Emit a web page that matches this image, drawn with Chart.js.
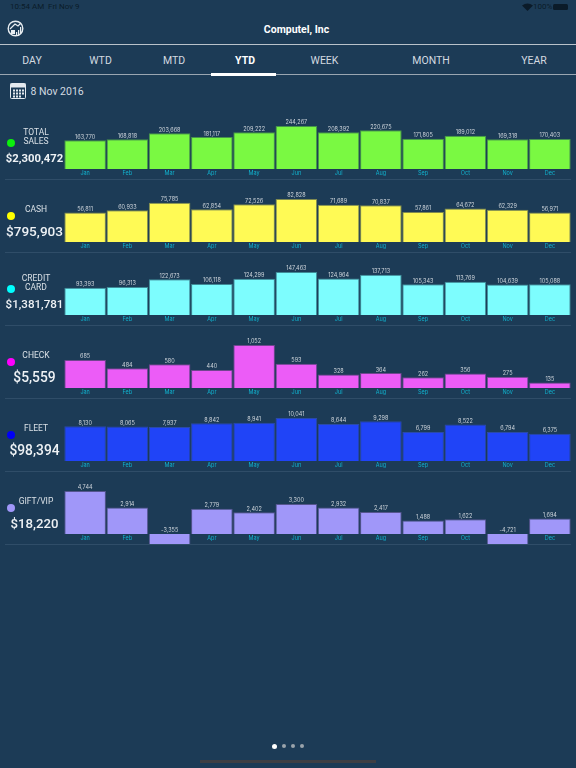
<!DOCTYPE html>
<html>
<head>
<meta charset="utf-8">
<script src="https://cdn.jsdelivr.net/npm/chart.js@4"></script>
<style>
html, body { margin: 0; padding: 0; }
body { width: 576px; height: 768px; background: #1c3b56; position: relative; overflow: hidden; font-family: Roboto, Inter, sans-serif; color: #d9e0e6; }
.abs { position: absolute; white-space: nowrap; }
.ctr { transform: translate(-50%, -50%); text-align: center; }
.tab { font-size: 10.5px; color: #d3dae0; top: 60px; }
.rule { position: absolute; height: 1px; }
.dot { position: absolute; width: 8px; height: 8px; border-radius: 50%; }
canvas { position: absolute; left: 0; }
</style>
</head>
<body>
<div class="abs" style="left:10px;top:2px;font-size:8px;color:#0b1b29">10:54 AM&nbsp;&nbsp;Fri Nov 9</div>
<svg class="abs" style="left:522px;top:3px" width="11" height="8" viewBox="0 0 11 8">
  <path d="M0 2.5 Q5.5 -1.5 11 2.5 L5.5 8 Z" fill="#0b1b29"/>
</svg>
<div class="abs" style="left:533px;top:2px;font-size:8px;color:#0b1b29">100%</div>
<div class="abs" style="left:553px;top:4px;width:15px;height:6px;background:#0b1b29;border-radius:1.5px"></div>

<svg class="abs" style="left:7px;top:20px" width="17" height="17" viewBox="0 0 17 17">
  <circle cx="8.5" cy="8.5" r="7.3" fill="none" stroke="#e8edf1" stroke-width="1.4"/>
  <path d="M3 9 L8 4 L11 6 L14 3" fill="none" stroke="#e8edf1" stroke-width="1.2"/>
  <path d="M4 10h4v4h-4z M9 12h1.2v4h-1.2z M11 10h1.2v6h-1.2z M13 7h1.2v7h-1.2z" fill="#e8edf1"/>
</svg>
<div class="abs ctr" style="left:296.5px;top:29px;font-size:10.5px;font-weight:700;color:#fff">Computel, Inc</div>
<div class="rule" style="left:0;top:44px;width:576px;background:#b9c2ca"></div>

<div class="abs ctr tab" style="left:32px">DAY</div>
<div class="abs ctr tab" style="left:100.5px">WTD</div>
<div class="abs ctr tab" style="left:174px">MTD</div>
<div class="abs ctr tab" style="left:245px;font-weight:700;color:#fff">YTD</div>
<div class="abs ctr tab" style="left:324.5px">WEEK</div>
<div class="abs ctr tab" style="left:431px">MONTH</div>
<div class="abs ctr tab" style="left:534px">YEAR</div>
<div class="rule" style="left:0;top:74px;width:576px;background:#9aa6b1"></div>
<div class="abs" style="left:211px;top:73px;width:65px;height:2.5px;background:#fff"></div>

<svg class="abs" style="left:10px;top:83px" width="16" height="16" viewBox="0 0 16 16">
  <rect x="0.5" y="0.5" width="15" height="15" rx="1" fill="none" stroke="#e4e9ee"/>
  <rect x="0.5" y="0.5" width="15" height="4" fill="#e4e9ee"/>
  <path d="M3 6.5h2v2h-2z M6 6.5h2v2h-2z M9 6.5h2v2h-2z M12 6.5h2v2h-2z M3 9.5h2v2h-2z M6 9.5h2v2h-2z M9 9.5h2v2h-2z M12 9.5h2v2h-2z M3 12.5h2v2h-2z M6 12.5h2v2h-2z M9 12.5h2v2h-2z" fill="#e4e9ee"/>
</svg>
<div class="abs" style="left:30.5px;top:85px;font-size:10.5px;color:#d3dae0">8 Nov 2016</div>

<div class="dot" style="left:272px;top:743.5px;width:5px;height:5px;background:#fff"></div>
<div class="dot" style="left:281.5px;top:744px;width:4px;height:4px;background:#9aa3ab"></div>
<div class="dot" style="left:290.5px;top:744px;width:4px;height:4px;background:#9aa3ab"></div>
<div class="dot" style="left:299.5px;top:744px;width:4px;height:4px;background:#9aa3ab"></div>
<div class="abs" style="left:200px;top:760px;width:176px;height:3px;background:#3e3f44"></div>

<script>
const months = ['Jan', 'Feb', 'Mar', 'Apr', 'May', 'Jun', 'Jul', 'Aug', 'Sep', 'Oct', 'Nov', 'Dec'];

const totalSales = [163770, 168818, 203668, 181117, 209222, 244267, 208392, 220675, 171805, 189012, 169318, 170403];
const cash = [56811, 60933, 75785, 62854, 72526, 82828, 71689, 70837, 57861, 64672, 62329, 56971];
const creditCard = [93393, 96313, 122673, 106118, 124299, 147463, 124964, 137713, 105343, 113769, 104639, 105088];
const check = [685, 484, 580, 440, 1052, 593, 328, 364, 262, 356, 275, 135];
const fleet = [8130, 8065, 7937, 8842, 8941, 10041, 8644, 9298, 6799, 8522, 6794, 6375];
const giftVip = [4744, 2914, -3355, 2779, 2402, 3300, 2932, 2417, 1488, 1622, -4721, 1694];

const seriesValues = [totalSales, cash, creditCard, check, fleet, giftVip];
const seriesNames = [['TOTAL', 'SALES'], ['CASH'], ['CREDIT', 'CARD'], ['CHECK'], ['FLEET'], ['GIFT/VIP']];
const seriesTotals = ['$2,300,472', '$795,903', '$1,381,781', '$5,559', '$98,394', '$18,220'];

const barColors = ['#7af942', '#fffa55', '#7dfdfe', '#ec5cf7', '#2044f7', '#a097f9'];
const borderColors = ['#46944c', '#7f8a50', '#3f8c98', '#70468f', '#2a4aa8', '#55558f'];
const dotColors = ['#0cf00c', '#ffff00', '#00ffff', '#ff00ff', '#0000f5', '#a097f9'];
const totalFonts = [11.3, 13.6, 11.6, 13.8, 13.8, 13.2];

const giftAxisMin = -1225;

// value over each bar, the base line is used for the negative ones
const valueLabels = {
    id: 'valueLabels',
    afterDatasetsDraw(chart) {
        const ctx = chart.ctx;
        const values = chart.data.datasets[0].data;
        ctx.save();
        ctx.font = '5.5px Inter, Roboto, sans-serif';
        ctx.fillStyle = '#ccd3da';
        ctx.textAlign = 'center';
        ctx.textBaseline = 'bottom';
        chart.getDatasetMeta(0).data.forEach((bar, i) => {
            ctx.fillText(values[i].toLocaleString('en-US'), bar.x, Math.min(bar.y, bar.base) - 0.5);
        });
        ctx.restore();
    }
};

seriesValues.forEach((values, i) => {
    const baseY = 168.5 + 73 * i;
    const isGift = values === giftVip;

    const canvas = document.createElement('canvas');
    canvas.width = 576;
    canvas.height = 67;
    canvas.style.top = (baseY - 55) + 'px';
    document.body.appendChild(canvas);

    new Chart(canvas, {
        type: 'bar',
        data: {
            labels: months,
            datasets: [{
                data: values,
                backgroundColor: barColors[i],
                borderColor: borderColors[i],
                borderWidth: 1,
                categoryPercentage: 0.985,
                barPercentage: 1
            }]
        },
        options: {
            responsive: false,
            animation: false,
            layout: { padding: { left: 64, right: 5, top: 12, bottom: isGift ? 1 : 12 } },
            plugins: { legend: { display: false }, tooltip: { enabled: false } },
            scales: {
                x: {
                    position: { y: 0 },
                    grid: { display: false, drawTicks: false },
                    border: { display: false },
                    ticks: { color: '#10b4d0', font: { size: 5.5, family: 'Inter, Roboto, sans-serif' }, padding: 1, maxRotation: 0, autoSkip: false }
                },
                y: {
                    display: false,
                    min: isGift ? giftAxisMin : 0,
                    max: Math.max(...values)
                }
            }
        },
        plugins: [valueLabels]
    });

    // left column next to the bars
    const dot = document.createElement('div');
    dot.className = 'dot';
    dot.style.cssText = 'left:7px;top:' + (baseY - 29.5) + 'px;background:' + dotColors[i];
    document.body.appendChild(dot);

    const name = document.createElement('div');
    name.className = 'abs ctr';
    name.style.cssText = 'left:36px;top:' + (baseY - 31.5) + 'px;font-size:8.5px;line-height:9.3px';
    name.innerHTML = seriesNames[i].join('<br>');
    document.body.appendChild(name);

    const total = document.createElement('div');
    total.className = 'abs ctr';
    total.style.cssText = 'left:34.5px;top:' + (baseY - 10.5) + 'px;color:#eef2f5;font-size:' + totalFonts[i] + 'px;font-weight:' + (i === 0 ? 700 : 500);
    total.textContent = seriesTotals[i];
    document.body.appendChild(total);

    const rule = document.createElement('div');
    rule.className = 'rule';
    rule.style.cssText = 'left:5px;width:566px;top:' + (baseY + 10.5) + 'px;background:#2f4d68';
    document.body.appendChild(rule);
});
</script>
</body>
</html>
